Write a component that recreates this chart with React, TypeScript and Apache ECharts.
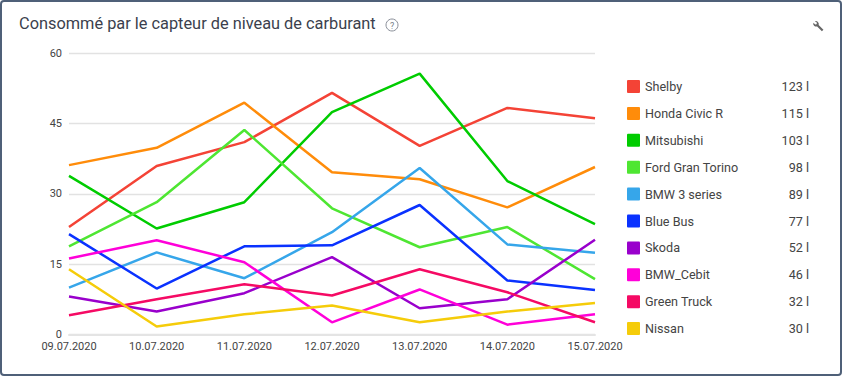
import React, { useEffect, useRef } from "react";
import * as echarts from "echarts";

const titleText = "Consommé par le capteur de niveau de carburant";
const categories = ["09.07.2020", "10.07.2020", "11.07.2020", "12.07.2020", "13.07.2020", "14.07.2020", "15.07.2020"];
const names = ["Shelby", "Honda Civic R", "Mitsubishi", "Ford Gran Torino", "BMW 3 series", "Blue Bus", "Skoda", "BMW_Cebit", "Green Truck", "Nissan"];
const totals = ["123 l", "115 l", "103 l", "98 l", "89 l", "77 l", "52 l", "46 l", "32 l", "30 l"];
const colors = ["#f44336", "#ff8c0a", "#00cc00", "#4ee632", "#36a6ea", "#0a32ff", "#9900cc", "#ff00d9", "#f50a64", "#f5cc0a"];
const shelby = [22.9, 35.9, 41, 51.5, 40.2, 48.3, 46.1];
const honda = [36.1, 39.8, 49.4, 34.6, 33.1, 27.1, 35.7];
const mitsubishi = [33.8, 22.6, 28.2, 47.4, 55.6, 32.7, 23.5];
const ford = [18.8, 28.2, 43.6, 26.9, 18.6, 22.9, 11.8];
const bmw3 = [10, 17.5, 12, 21.8, 35.5, 19.2, 17.4];
const blueBus = [21.4, 9.8, 18.8, 19, 27.6, 11.5, 9.5];
const skoda = [8.1, 4.9, 8.8, 16.5, 5.6, 7.5, 20.2];
const cebit = [16.2, 20.1, 15.4, 2.6, 9.6, 2.1, 4.3];
const greenTruck = [4.1, 7.5, 10.7, 8.3, 13.9, 9, 2.6];
const nissan = [13.9, 1.7, 4.3, 6.2, 2.6, 4.9, 6.7];
const allValues = [shelby, honda, mitsubishi, ford, bmw3, blueBus, skoda, cebit, greenTruck, nissan];

const FONT = "Roboto, Arial, sans-serif";
const wrenchPath = "M9.6 1.2 A3.2 3.2 0 0 0 5.6 5.2 L0.6 10.2 L2.2 11.8 L7.2 6.8 A3.2 3.2 0 0 0 11.2 2.8 L9.2 4.8 L7.8 4.4 L7.4 3 Z";
echarts.graphic.registerShape("wrench", echarts.graphic.extendPath(wrenchPath, {}) as any);
const swatch = "path://M1 0H12A1 1 0 0 1 13 1V12A1 1 0 0 1 12 13H1A1 1 0 0 1 0 12V1A1 1 0 0 1 1 0Z";

export default function App() {
  const ref = useRef<HTMLDivElement>(null);
  useEffect(() => {
    document.body.style.margin = "0";
    const chart = echarts.init(ref.current!, null, { renderer: "svg" });
    chart.setOption({
      animation: false,
      backgroundColor: "#ffffff",
      color: colors,
      grid: { left: 69, right: 247, top: 53, bottom: 41.5, containLabel: false },
      xAxis: {
        type: "category",
        data: categories,
        boundaryGap: false,
        axisTick: { show: false },
        axisLine: { show: true, lineStyle: { color: "#e4e4e4", width: 2 } },
        axisLabel: { color: "#444444", fontSize: 11, fontFamily: FONT, margin: 6, interval: 0, hideOverlap: false, showMinLabel: true, showMaxLabel: true },
      },
      yAxis: {
        type: "value",
        min: 0,
        max: 60,
        interval: 15,
        axisLine: { show: false },
        axisTick: { show: false },
        axisLabel: { color: "#444444", fontSize: 11, fontFamily: FONT, margin: 7 },
        splitLine: { lineStyle: { color: "#e2e2e2", width: 1.3 } },
      },
      legend: {
        orient: "vertical",
        left: 627,
        top: 78.5,
        padding: 0,
        itemWidth: 13,
        itemHeight: 13,
        itemGap: 10.9,
        icon: swatch,
        data: names,
        selectedMode: false,
        formatter: (name: string) => `{n|${name}}{v|${totals[names.indexOf(name)]}}`,
        textStyle: {
          rich: {
            n: { width: 124, fontSize: 12.6, color: "#444444", fontFamily: FONT, align: "left", height: 16, lineHeight: 16 },
            v: { width: 40, fontSize: 12.6, color: "#444444", fontFamily: FONT, align: "right", height: 16, lineHeight: 16 },
          },
        },
      },
      series: names.map((name, i) => ({
        name,
        type: "line",
        data: allValues[i],
        symbol: "none",
        smooth: false,
        lineStyle: { width: 2.5, color: colors[i] },
        itemStyle: { color: colors[i] },
      })),
      graphic: [
        { type: "rect", silent: true, z: 100, shape: { x: 1, y: 1, width: 840, height: 374, r: 3 }, style: { fill: "none", stroke: "#4f6078", lineWidth: 2 } },
        { type: "text", x: 19, y: 15, style: { text: titleText, font: `16.35px ${FONT}`, fill: "#3b3f4d" } },
        { type: "circle", shape: { cx: 392, cy: 25, r: 6 }, style: { fill: "none", stroke: "#8a8f99", lineWidth: 1 } },
        { type: "text", x: 392, y: 25.5, style: { text: "?", font: `9px ${FONT}`, fill: "#7a7f89", align: "center", verticalAlign: "middle" } },
        { type: "wrench", x: 824, y: 20, scaleX: -0.95, scaleY: 0.95, style: { fill: "#666666" } },
      ],
    });
    return () => chart.dispose();
  }, []);
  return <div ref={ref} style={{ width: 842, height: 376 }} />;
}
